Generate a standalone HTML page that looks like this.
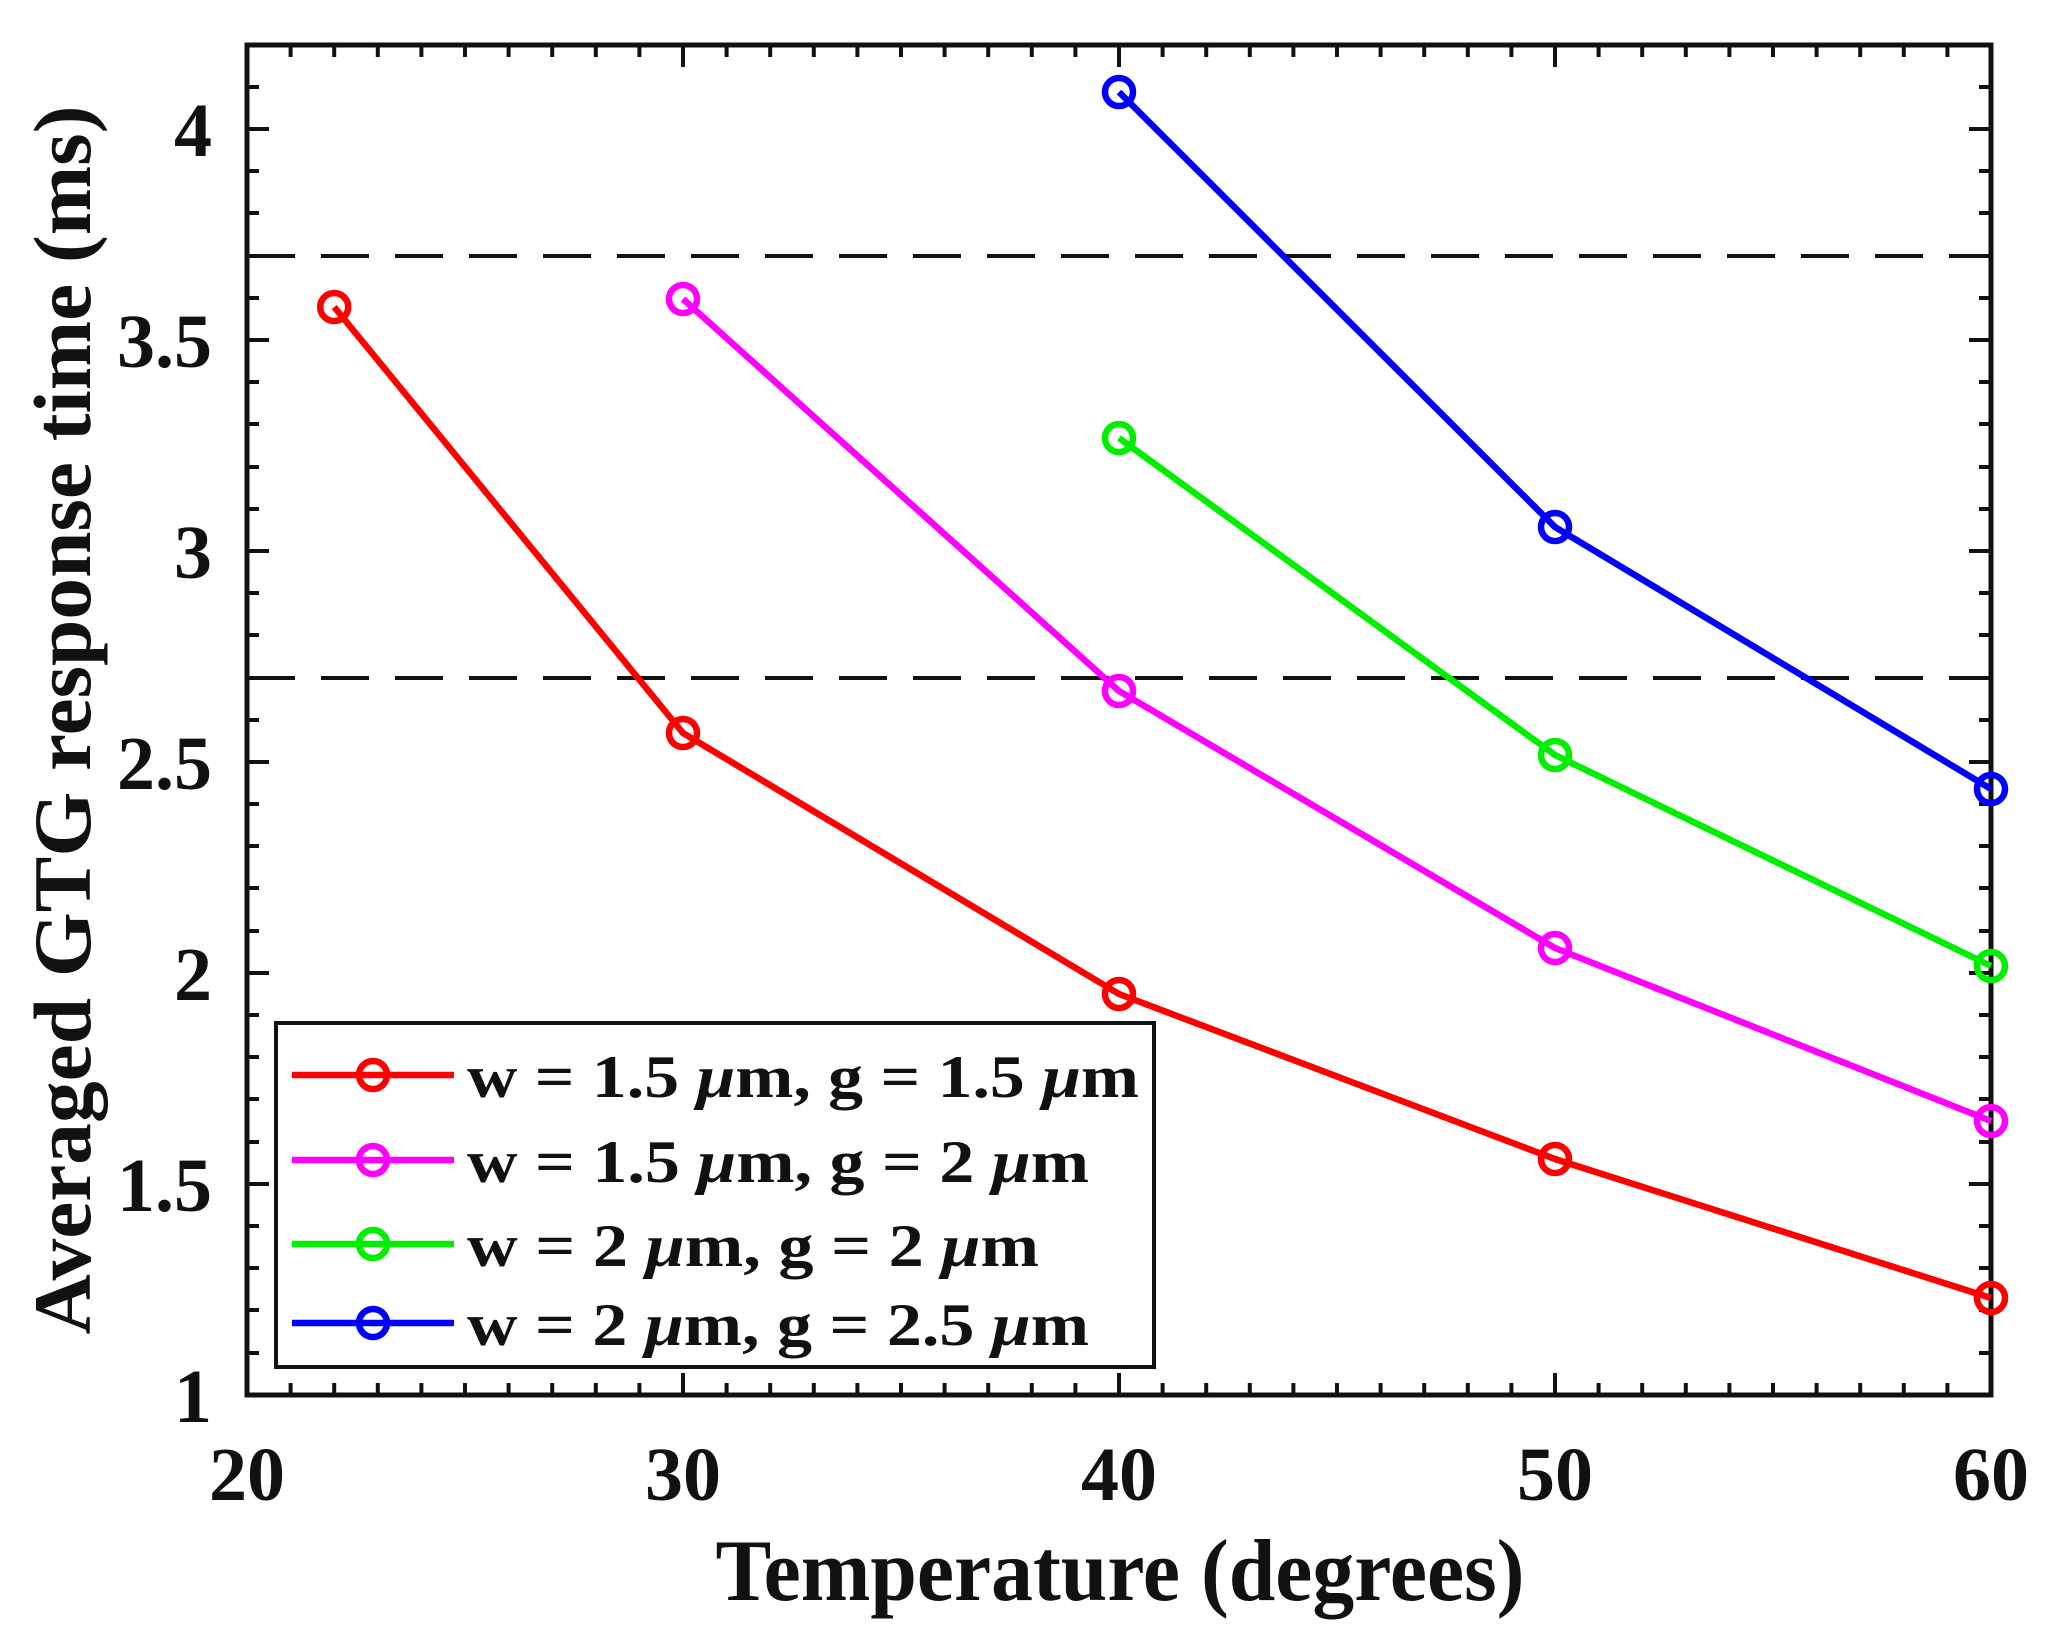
<!DOCTYPE html>
<html><head><meta charset="utf-8"><style>body{margin:0;background:#fff}svg{display:block}</style></head>
<body>
<svg width="2051" height="1634" viewBox="0 0 2051 1634" xmlns="http://www.w3.org/2000/svg" font-family="Liberation Serif, serif" font-weight="bold">
<rect width="2051" height="1634" fill="#fff"/>
<g stroke="#111" stroke-width="4">
<path d="M290.6,1395v-12M334.2,1395v-12M377.8,1395v-12M421.4,1395v-12M465,1395v-12M508.6,1395v-12M552.2,1395v-12M595.8,1395v-12M639.4,1395v-12M726.6,1395v-12M770.2,1395v-12M813.8,1395v-12M857.4,1395v-12M901,1395v-12M944.6,1395v-12M988.2,1395v-12M1031.8,1395v-12M1075.4,1395v-12M1162.6,1395v-12M1206.2,1395v-12M1249.8,1395v-12M1293.4,1395v-12M1337,1395v-12M1380.6,1395v-12M1424.2,1395v-12M1467.8,1395v-12M1511.4,1395v-12M1598.6,1395v-12M1642.2,1395v-12M1685.8,1395v-12M1729.4,1395v-12M1773,1395v-12M1816.6,1395v-12M1860.2,1395v-12M1903.8,1395v-12M1947.4,1395v-12"/>
<path d="M683,1395v-22M1119,1395v-22M1555,1395v-22"/>
<path d="M290.6,45v12M334.2,45v12M377.8,45v12M421.4,45v12M465,45v12M508.6,45v12M552.2,45v12M595.8,45v12M639.4,45v12M726.6,45v12M770.2,45v12M813.8,45v12M857.4,45v12M901,45v12M944.6,45v12M988.2,45v12M1031.8,45v12M1075.4,45v12M1162.6,45v12M1206.2,45v12M1249.8,45v12M1293.4,45v12M1337,45v12M1380.6,45v12M1424.2,45v12M1467.8,45v12M1511.4,45v12M1598.6,45v12M1642.2,45v12M1685.8,45v12M1729.4,45v12M1773,45v12M1816.6,45v12M1860.2,45v12M1903.8,45v12M1947.4,45v12"/>
<path d="M683,45v22M1119,45v22M1555,45v22"/>
<path d="M247,1353h12M247,1310h12M247,1268h12M247,1226h12M247,1142h12M247,1099h12M247,1057h12M247,1015h12M247,931h12M247,888h12M247,846h12M247,804h12M247,720h12M247,678h12M247,635h12M247,593h12M247,509h12M247,467h12M247,424h12M247,382h12M247,298h12M247,256h12M247,213h12M247,171h12M247,87h12"/>
<path d="M247,1184h22M247,973h22M247,762h22M247,551h22M247,340h22M247,129h22"/>
<path d="M1991,1353h-12M1991,1310h-12M1991,1268h-12M1991,1226h-12M1991,1142h-12M1991,1099h-12M1991,1057h-12M1991,1015h-12M1991,931h-12M1991,888h-12M1991,846h-12M1991,804h-12M1991,720h-12M1991,678h-12M1991,635h-12M1991,593h-12M1991,509h-12M1991,467h-12M1991,424h-12M1991,382h-12M1991,298h-12M1991,256h-12M1991,213h-12M1991,171h-12M1991,87h-12"/>
<path d="M1991,1184h-22M1991,973h-22M1991,762h-22M1991,551h-22M1991,340h-22M1991,129h-22"/>
</g>
<rect x="247" y="45" width="1744" height="1350" fill="none" stroke="#111" stroke-width="5"/>
<g stroke="#111" stroke-width="4" stroke-dasharray="48,26">
<line x1="247" y1="256" x2="1991" y2="256"/>
<line x1="247" y1="678" x2="1991" y2="678"/>
</g>
<g fill="none" stroke-width="6.5">
<polyline stroke="#ff0000" points="334.2,307 683,733 1119,994 1555,1159 1991,1298"/>
<polyline stroke="#ff00ff" points="683,299 1119,691 1555,948 1991,1121"/>
<polyline stroke="#00ee00" points="1119,438 1555,755 1991,966"/>
<polyline stroke="#0000ff" points="1119,92 1555,527 1991,789"/>
<g stroke="#ff0000"><circle cx="334.2" cy="307" r="14"/><circle cx="683" cy="733" r="14"/><circle cx="1119" cy="994" r="14"/><circle cx="1555" cy="1159" r="14"/><circle cx="1991" cy="1298" r="14"/></g>
<g stroke="#ff00ff"><circle cx="683" cy="299" r="14"/><circle cx="1119" cy="691" r="14"/><circle cx="1555" cy="948" r="14"/><circle cx="1991" cy="1121" r="14"/></g>
<g stroke="#00ee00"><circle cx="1119" cy="438" r="14"/><circle cx="1555" cy="755" r="14"/><circle cx="1991" cy="966" r="14"/></g>
<g stroke="#0000ff"><circle cx="1119" cy="92" r="14"/><circle cx="1555" cy="527" r="14"/><circle cx="1991" cy="789" r="14"/></g>
</g>
<rect x="276" y="1023" width="878" height="344" fill="#fff" stroke="#111" stroke-width="4"/>
<g fill="none" stroke-width="6.5">
<path stroke="#ff0000" d="M292,1075h162"/><circle stroke="#ff0000" cx="373" cy="1075" r="14"/>
<path stroke="#ff00ff" d="M292,1160h162"/><circle stroke="#ff00ff" cx="373" cy="1160" r="14"/>
<path stroke="#00ee00" d="M292,1244h162"/><circle stroke="#00ee00" cx="373" cy="1244" r="14"/>
<path stroke="#0000ff" d="M292,1323h162"/><circle stroke="#0000ff" cx="373" cy="1323" r="14"/>
</g>
<g font-size="60" fill="#111">
<text x="467" y="1097" textLength="672" lengthAdjust="spacingAndGlyphs">w = 1.5 <tspan font-style="italic">μ</tspan>m, g = 1.5 <tspan font-style="italic">μ</tspan>m</text>
<text x="467" y="1182" textLength="622" lengthAdjust="spacingAndGlyphs">w = 1.5 <tspan font-style="italic">μ</tspan>m, g = 2 <tspan font-style="italic">μ</tspan>m</text>
<text x="467" y="1266" textLength="572" lengthAdjust="spacingAndGlyphs">w = 2 <tspan font-style="italic">μ</tspan>m, g = 2 <tspan font-style="italic">μ</tspan>m</text>
<text x="467" y="1345" textLength="622" lengthAdjust="spacingAndGlyphs">w = 2 <tspan font-style="italic">μ</tspan>m, g = 2.5 <tspan font-style="italic">μ</tspan>m</text>
</g>
<g font-size="76" fill="#111" text-anchor="end">
<text x="212" y="1422">1</text><text x="212" y="1211">1.5</text><text x="212" y="1000">2</text><text x="212" y="789">2.5</text><text x="212" y="578">3</text><text x="212" y="367">3.5</text><text x="212" y="156">4</text>
</g>
<g font-size="76" fill="#111" text-anchor="middle">
<text x="247" y="1500">20</text><text x="683" y="1500">30</text><text x="1119" y="1500">40</text><text x="1555" y="1500">50</text><text x="1991" y="1500">60</text>
</g>
<text x="1120" y="1600" font-size="88" text-anchor="middle" fill="#111" textLength="809" lengthAdjust="spacingAndGlyphs">Temperature (degrees)</text>
<text transform="translate(90,720) rotate(-90)" font-size="82" text-anchor="middle" fill="#111" textLength="1229" lengthAdjust="spacingAndGlyphs">Averaged GTG response time (ms)</text>
</svg>
</body></html>
